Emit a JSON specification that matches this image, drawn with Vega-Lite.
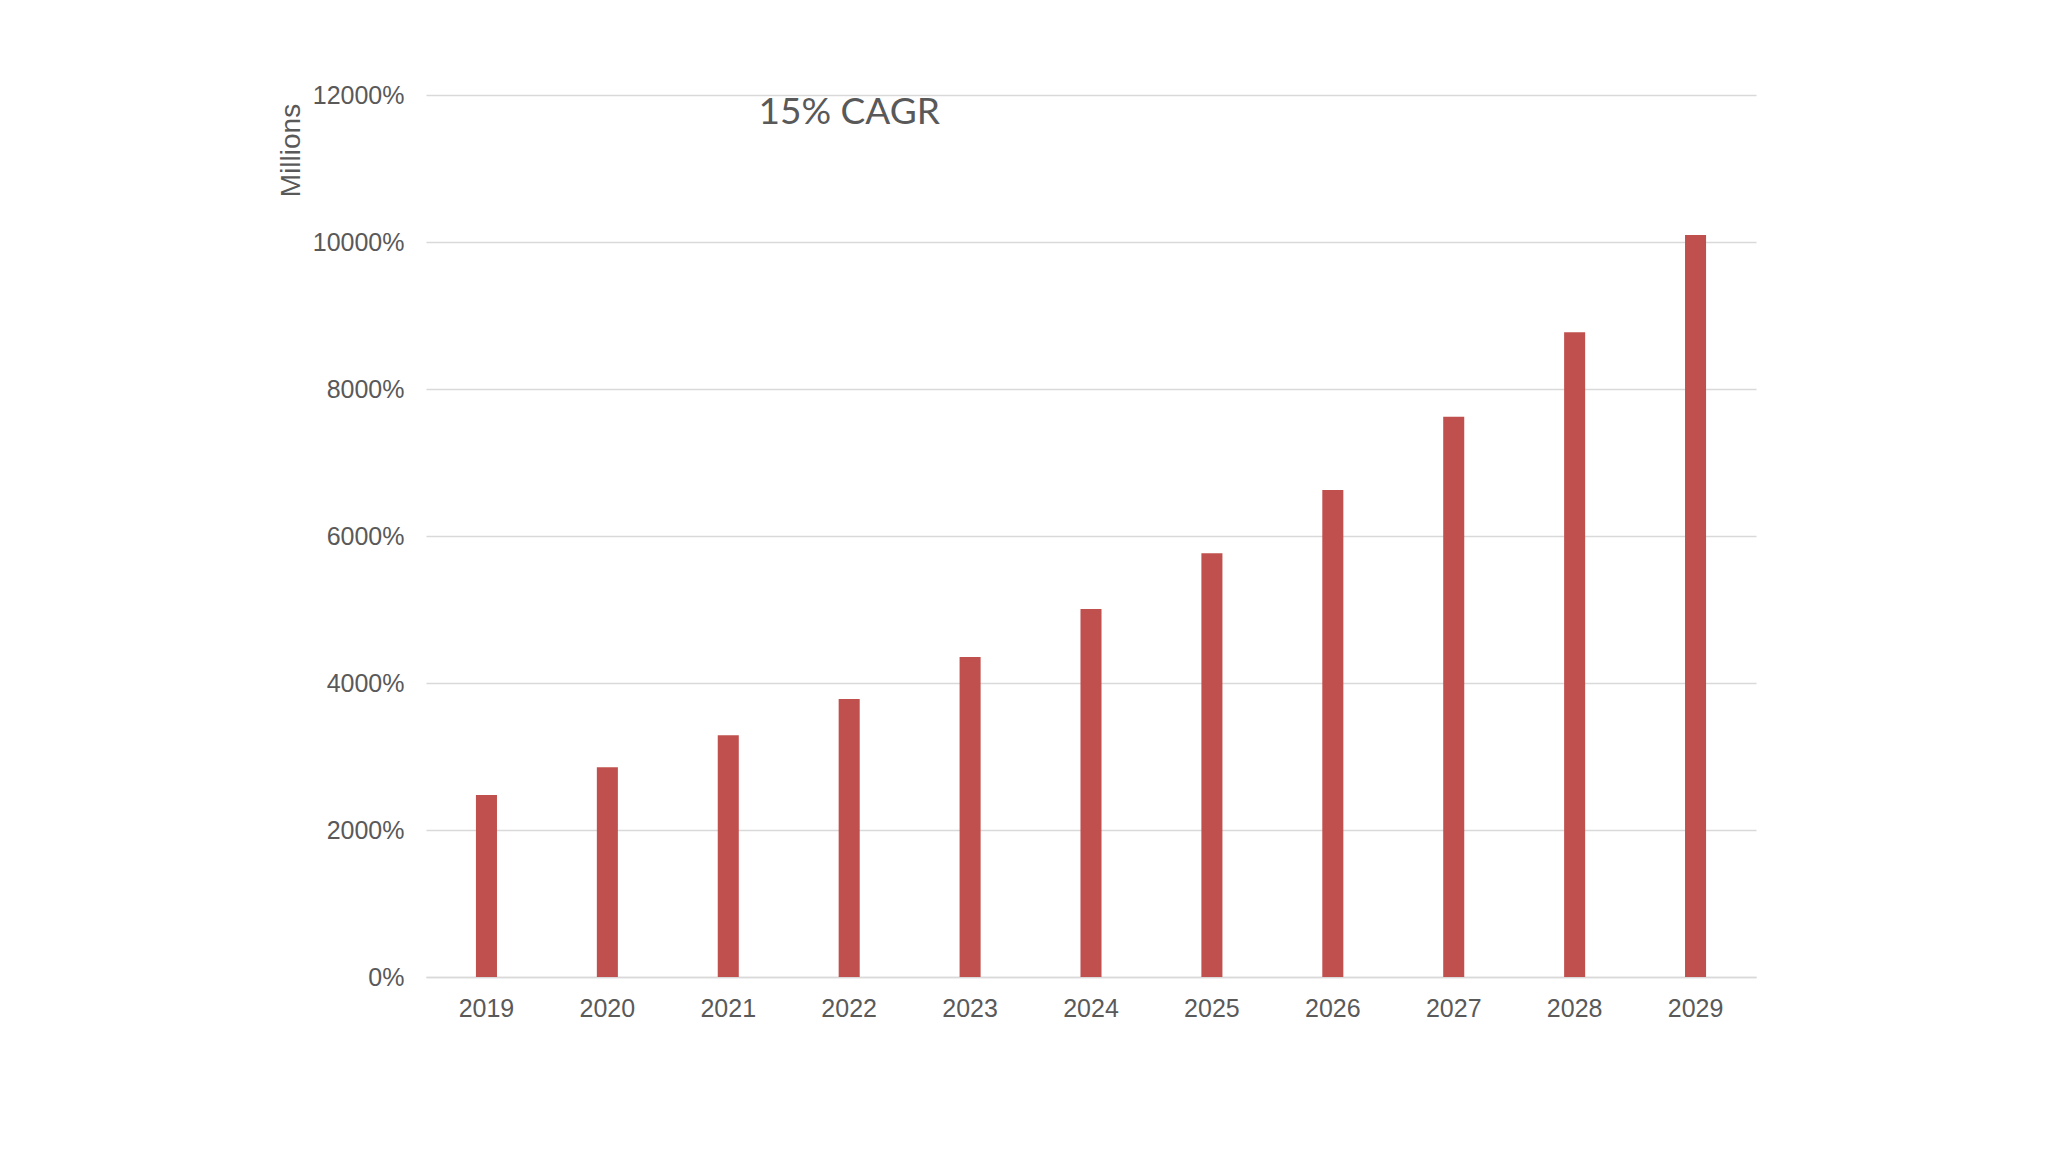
{
  "$schema": "https://vega.github.io/schema/vega-lite/v6.json",
  "width": 1330,
  "height": 882,
  "autosize": {"type": "none"},
  "padding": {"left": 426, "top": 95, "right": 292, "bottom": 175},
  "background": "white",
  "config": {"view": {"stroke": null}, "font": "Liberation Sans"},
  "datasets": {
    "bars": [
      {"year": "2019", "value": 2476},
      {"year": "2020", "value": 2853},
      {"year": "2021", "value": 3288},
      {"year": "2022", "value": 3782},
      {"year": "2023", "value": 4354},
      {"year": "2024", "value": 5007},
      {"year": "2025", "value": 5764},
      {"year": "2026", "value": 6626},
      {"year": "2027", "value": 7623},
      {"year": "2028", "value": 8771},
      {"year": "2029", "value": 10095}
    ],
    "notes": [
      {"year": "2022", "value": 12000, "label": "15% CAGR"}
    ]
  },
  "layer": [
    {
      "data": {"name": "bars"},
      "mark": {"type": "bar", "color": "#c0504d"},
      "encoding": {
        "x": {
          "field": "year",
          "type": "ordinal",
          "scale": {"paddingInner": 0.826, "paddingOuter": 0.413},
          "axis": {
            "title": null,
            "labelAngle": 0,
            "labelFontSize": 25,
            "labelColor": "#595959",
            "labelPadding": 19,
            "ticks": false,
            "domainColor": "#d9d9d9",
            "domainWidth": 1.5,
            "grid": false
          }
        },
        "y": {
          "field": "value",
          "type": "quantitative",
          "scale": {"domain": [0, 12000], "nice": false},
          "axis": {
            "values": [0, 2000, 4000, 6000, 8000, 10000, 12000],
            "labelExpr": "datum.value + '%'",
            "labelFontSize": 25,
            "labelColor": "#595959",
            "labelPadding": 22,
            "ticks": false,
            "domain": false,
            "gridColor": "#d9d9d9",
            "gridWidth": 1.3,
            "title": "Millions",
            "titleFontSize": 28,
            "titleFontWeight": "normal",
            "titleColor": "#595959",
            "titleAngle": 270,
            "titleX": -127,
            "titleY": 55,
            "titleAlign": "center",
            "titleBaseline": "alphabetic"
          }
        }
      }
    },
    {
      "data": {"name": "notes"},
      "mark": {"type": "text", "font": "Lato", "fontSize": 37, "color": "#595959", "baseline": "top", "align": "center", "dy": 0},
      "encoding": {
        "x": {"field": "year", "type": "ordinal"},
        "y": {"field": "value", "type": "quantitative"},
        "text": {"field": "label"}
      }
    }
  ]
}
